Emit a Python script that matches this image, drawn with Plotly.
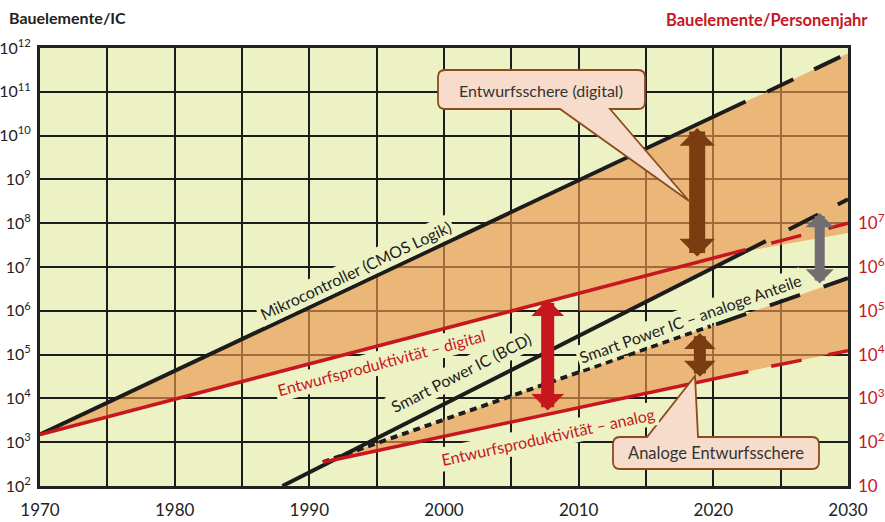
import math
import plotly.graph_objects as go

# ---------------- data ----------------
# Mikrocontroller (CMOS Logik) - Bauelemente/IC
mikro_years_solid = [1970, 2022.4]
mikro_solid = [1.5e3, 6.0e10]
mikro_years_dash = [2024.0, 2030]
mikro_dash = [1.0e11, 7.6e11]

# Entwurfsproduktivitaet digital - Bauelemente/Personenjahr (right axis)
dig_years_solid = [1970, 2010, 2022.4]
dig_solid = [1.5e2, 2.5e5, 2.5e6]
dig_years_dash = [2024.3, 2030]
dig_dash = [3.5e6, 1.0e7]

# Smart Power IC (BCD) - Bauelemente/IC
bcd_years_solid = [1988, 2013.6, 2023.9]
bcd_solid = [1.0e2, 1.0e6, 3.9e7]
bcd_years_dash = [2025.6, 2030]
bcd_dash = [7.2e7, 3.5e8]

# Smart Power IC - analoge Anteile - Bauelemente/IC
ana_years_dot = [1991, 2019.8]
ana_dot = [3.5e2, 4.5e5]
ana_years_dash = [2020.2, 2030]
ana_dash = [4.9e5, 5.6e6]

# Entwurfsproduktivitaet analog - Bauelemente/Personenjahr (right axis)
pana_years_solid = [1991, 2022.6]
pana_solid = [35, 4.1e3]
pana_years_dash = [2024.3, 2030]
pana_dash = [5.4e3, 1.23e4]

# lower edge of the orange area below the digital productivity line
gap_years = [2010, 2013.6, 2022.4, 2030]
gap_lower = [1.0e6, 1.0e6, 2.3e7, 6.0e7]

# double arrows: (year, lower value, upper value) in Bauelemente/IC
arrow_years = [2018.8, 2007.7, 2019.0, 2027.9]
arrow_low = [1.6e7, 4.9e3, 2.9e4, 3.9e6]
arrow_high = [1.5e10, 1.8e6, 3.1e5, 1.7e8]

x_ticks = list(range(1970, 2031, 5))
left_exp = list(range(2, 13))
right_exp = list(range(1, 8))

# ---------------- style ----------------
BG = "#EDF2C5"
ORANGE = "rgba(233,151,78,0.65)"
BLACK = "#1c1c1c"
RED = "#C8161E"
BROWN = "#7A3D12"
GRAY = "#716D71"
FONT = "Lato"

L, R, T, B = 40, 37, 48, 36
W, H = 885, 522
PW, PH = W - L - R, H - T - B


def P(x, y):
    return f"{(x - L) / PW:.5f},{(H - B - y) / PH:.5f}"


def px(x):
    return (x - L) / PW


def py(y):
    return (H - B - y) / PH


fig = go.Figure()

# ---------------- fills ----------------
dig_years_all = dig_years_solid + dig_years_dash
dig_left_all = [v * 10 for v in dig_solid + dig_dash]
mikro_years_all = mikro_years_solid + mikro_years_dash
mikro_all = mikro_solid + mikro_dash

fig.add_trace(go.Scatter(
    x=mikro_years_all + dig_years_all[::-1],
    y=mikro_all + dig_left_all[::-1],
    fill="toself", fillcolor=ORANGE, mode="none", hoverinfo="skip", showlegend=False))

top_x = [yv for yv in dig_years_all if yv >= 2010]
top_y = [v for yv, v in zip(dig_years_all, dig_left_all) if yv >= 2010]
fig.add_trace(go.Scatter(
    x=top_x + gap_years[::-1],
    y=top_y + gap_lower[::-1],
    fill="toself", fillcolor=ORANGE, mode="none", hoverinfo="skip", showlegend=False))

ana_years_all = ana_years_dot + ana_years_dash
ana_all = ana_dot + ana_dash
pana_years_all = pana_years_solid + pana_years_dash
pana_left_all = [v * 10 for v in pana_solid + pana_dash]
fig.add_trace(go.Scatter(
    x=ana_years_all + pana_years_all[::-1],
    y=ana_all + pana_left_all[::-1],
    fill="toself", fillcolor=ORANGE, mode="none", hoverinfo="skip", showlegend=False))

# ---------------- lines ----------------


def line(x, y, color, width, dash="solid", yaxis="y"):
    fig.add_trace(go.Scatter(x=x, y=y, mode="lines", yaxis=yaxis, hoverinfo="skip",
                             showlegend=False,
                             line=dict(color=color, width=width, dash=dash)))


line(dig_years_solid, dig_solid, RED, 3.5, yaxis="y2")
line(dig_years_dash, dig_dash, RED, 3.5, "31px,28px", yaxis="y2")
line(pana_years_solid, pana_solid, RED, 3.5, yaxis="y2")
line(pana_years_dash, pana_dash, RED, 3.5, "31px,27px", yaxis="y2")
line(mikro_years_solid, mikro_solid, BLACK, 4)
line(mikro_years_dash, mikro_dash, BLACK, 4, "29px,23px")
line(bcd_years_solid, bcd_solid, BLACK, 4)
line(bcd_years_dash, bcd_dash, BLACK, 4, "33px,22px")
line(ana_years_dot, ana_dot, BLACK, 4, "7px,5px")
line(ana_years_dash, ana_dash, BLACK, 4, "32px,25px")

annotations = []

# ---------------- double arrows ----------------
arrow_style = [(BROWN, 16, 0.37), (RED, 13, 0.42), (BROWN, 12, 0.44), (GRAY, 10, 0.47)]
for yr, lo, hi, (col, w, s) in zip(arrow_years, arrow_low, arrow_high, arrow_style):
    annotations.append(dict(
        x=yr, y=math.log10(hi), ax=yr, ay=math.log10(lo), xref="x", yref="y",
        axref="x", ayref="y", text="", showarrow=True, arrowside="end+start",
        arrowhead=1, startarrowhead=1, arrowsize=s, startarrowsize=s,
        arrowwidth=w, arrowcolor=col))

# ---------------- line labels ----------------
labels = [
    ("Mikrocontroller (CMOS Logik)", 355, 270, -25.3, BLACK),
    ("Entwurfsproduktivität – digital", 381, 362, -15, RED),
    ("Smart Power IC (BCD)", 461, 373, -27, BLACK),
    ("Smart Power IC – analoge Anteile", 690, 318, -19.5, BLACK),
    ("Entwurfsproduktivität – analog", 548, 436, -12.3, RED),
]
for txt, x, y, ang, col in labels:
    annotations.append(dict(
        x=px(x), y=py(y), xref="paper", yref="paper", text=txt, showarrow=False,
        textangle=ang, xanchor="center", yanchor="middle", bgcolor=BG, borderpad=2,
        font=dict(family=FONT, size=16, color=col)))

# ---------------- callout texts ----------------
annotations.append(dict(x=px(541), y=py(90), xref="paper", yref="paper",
                        xanchor="center", yanchor="middle",
                        text="Entwurfsschere (digital)", showarrow=False,
                        font=dict(family=FONT, size=16, color="#333333")))
annotations.append(dict(x=px(716), y=py(453), xref="paper", yref="paper",
                        xanchor="center", yanchor="middle",
                        text="Analoge Entwurfsschere", showarrow=False,
                        font=dict(family=FONT, size=16.5, color="#333333")))

# ---------------- axis titles ----------------
annotations.append(dict(x=px(7), y=py(17), xref="paper", yref="paper",
                        text="<b>Bauelemente/IC</b>", showarrow=False,
                        xanchor="left", yanchor="middle",
                        font=dict(family=FONT, size=16, color="#222222")))
annotations.append(dict(x=px(870), y=py(20), xref="paper", yref="paper",
                        text="<b>Bauelemente/Personenjahr</b>", showarrow=False,
                        xanchor="right", yanchor="middle",
                        font=dict(family=FONT, size=16.5, color=RED)))

# ---------------- callout bubbles ----------------


def bubble_bottom(x0, y0, x1, y1, r, bx0, bx1, tx, ty):
    return (f"M{P(x0 + r, y0)} L{P(x1 - r, y0)} Q{P(x1, y0)} {P(x1, y0 + r)} "
            f"L{P(x1, y1 - r)} Q{P(x1, y1)} {P(x1 - r, y1)} L{P(bx1, y1)} L{P(tx, ty)} "
            f"L{P(bx0, y1)} L{P(x0 + r, y1)} Q{P(x0, y1)} {P(x0, y1 - r)} "
            f"L{P(x0, y0 + r)} Q{P(x0, y0)} {P(x0 + r, y0)} Z")


def bubble_top(x0, y0, x1, y1, r, bx0, bx1, tx, ty):
    return (f"M{P(x0 + r, y0)} L{P(bx0, y0)} L{P(tx, ty)} L{P(bx1, y0)} "
            f"L{P(x1 - r, y0)} Q{P(x1, y0)} {P(x1, y0 + r)} "
            f"L{P(x1, y1 - r)} Q{P(x1, y1)} {P(x1 - r, y1)} "
            f"L{P(x0 + r, y1)} Q{P(x0, y1)} {P(x0, y1 - r)} "
            f"L{P(x0, y0 + r)} Q{P(x0, y0)} {P(x0 + r, y0)} Z")


shapes = [
    dict(type="path", xref="paper", yref="paper", layer="above",
         path=bubble_bottom(438, 70, 645, 109, 7, 560, 610, 689, 201),
         fillcolor="#F7DCCB", line=dict(color="#8A4B1F", width=1.8)),
    dict(type="path", xref="paper", yref="paper", layer="above",
         path=bubble_top(613, 437, 819, 469, 7, 647, 698, 695, 376),
         fillcolor="#F7DCCB", line=dict(color="#8A4B1F", width=1.8)),
]

fig.update_layout(
    width=W, height=H,
    margin=dict(l=L, r=R, t=T, b=B, autoexpand=False),
    paper_bgcolor="white", plot_bgcolor=BG,
    showlegend=False,
    font=dict(family=FONT, color="#222222"),
    annotations=annotations, shapes=shapes,
    xaxis=dict(range=[1970, 2030], tickvals=x_ticks,
               ticktext=[str(v) if v % 10 == 0 else "" for v in x_ticks],
               showgrid=True, gridcolor=BLACK, gridwidth=2,
               showline=True, mirror=True, linecolor="#222222", linewidth=3,
               zeroline=False, ticks="", ticklabelstandoff=7,
               tickfont=dict(family=FONT, size=17, color="#222222"),
               layer="below traces", automargin=False),
    yaxis=dict(type="log", range=[2, 12], tickvals=[10 ** k for k in left_exp],
               ticktext=[f"10<sup>{k}</sup>" for k in left_exp],
               showgrid=True, gridcolor=BLACK, gridwidth=2,
               showline=True, mirror=True, linecolor="#222222", linewidth=3,
               zeroline=False, ticks="", ticklabelstandoff=3,
               tickfont=dict(family=FONT, size=16, color="#222222"),
               layer="below traces", automargin=False),
    yaxis2=dict(type="log", range=[1, 11], overlaying="y", side="right",
                tickvals=[10 ** k for k in right_exp],
                ticktext=["10" if k == 1 else f"10<sup>{k}</sup>" for k in right_exp],
                showgrid=False, showline=False, zeroline=False, ticks="",
                ticklabelstandoff=9,
                tickfont=dict(family=FONT, size=17, color=RED),
                automargin=False),
)

fig.write_html("out.html")
